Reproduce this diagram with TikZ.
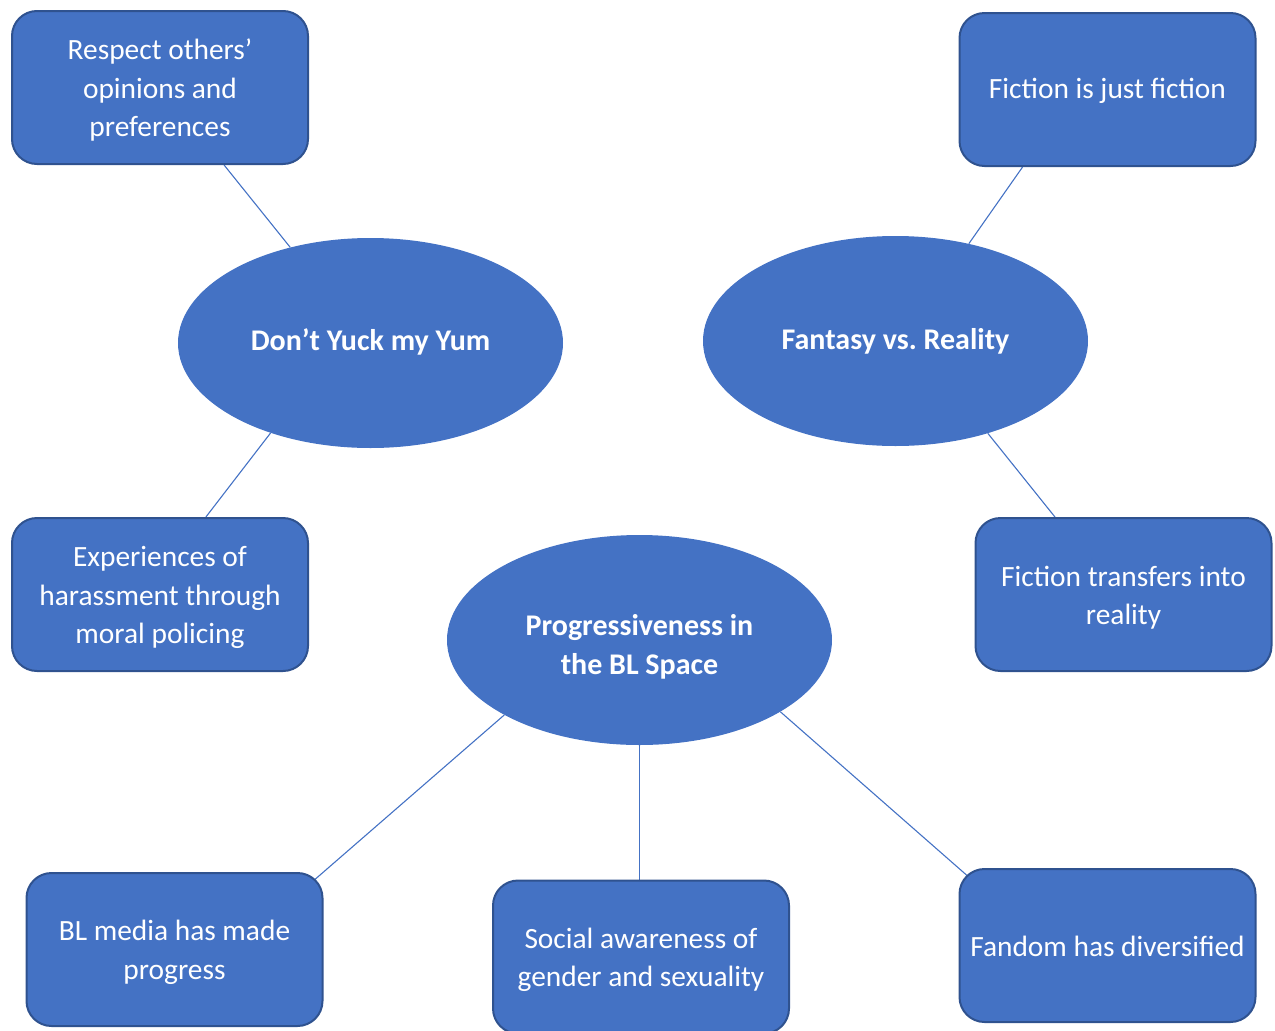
\documentclass[tikz,border=0pt]{standalone}
\usepackage{fontspec}
\setmainfont{Carlito}
\usetikzlibrary{shapes.geometric,backgrounds,calc}
\definecolor{fillblue}{HTML}{4472C4}
\definecolor{edgeblue}{HTML}{2F528F}
\frenchspacing
\newcommand{\shiftedtext}[3]{\raisebox{#1}[\height][\depth]{\parbox{#2}{\centering #3}}}
\tikzset{
  boxnode/.style={rectangle, rounded corners=25pt, fill=fillblue, draw=edgeblue, line width=2pt,
    minimum width=296pt, minimum height=153pt, inner sep=0pt, text=white,
    font=\fontsize{29.4}{38.5}\selectfont},
  ellnode/.style={ellipse, fill=fillblue, draw=none, minimum width=385pt, minimum height=210pt,
    inner sep=0pt, text=white, font=\fontsize{30}{39}\selectfont\bfseries},
  conn/.style={draw=fillblue, line width=1.1pt}
}
\begin{document}
\begin{tikzpicture}[x=1pt,y=-1pt]
\useasboundingbox (0,0) rectangle (1275,1031);
\clip (0,0) rectangle (1275,1031);
\node[boxnode] (b1) at (160,87.5) {\shiftedtext{-3pt}{290pt}{Respect others’\\opinions and\\preferences}};
\node[boxnode] (b2) at (1107.5,89.5) {\shiftedtext{-1pt}{290pt}{Fiction is just fiction}};
\node[boxnode] (b3) at (160,594.5) {\shiftedtext{-3pt}{290pt}{Experiences of\\harassment through\\moral policing}};
\node[boxnode] (b4) at (1123.5,594.5) {\shiftedtext{-3pt}{290pt}{Fiction transfers into\\reality}};
\node[boxnode] (b5) at (174.5,949.5) {\shiftedtext{-3pt}{290pt}{BL media has made\\progress}};
\node[boxnode] (b6) at (641,957) {\shiftedtext{-3pt}{290pt}{Social awareness of\\gender and sexuality}};
\node[boxnode] (b7) at (1107.5,945.5) {\shiftedtext{-1pt}{290pt}{Fandom has diversified}};
\node[ellnode] (e1) at (370.5,343) {\shiftedtext{1pt}{240pt}{Don’t Yuck my Yum}};
\node[ellnode] (e2) at (895.5,341) {\shiftedtext{0pt}{240pt}{Fantasy vs.\ Reality}};
\node[ellnode] (e3) at (639.5,640) {\shiftedtext{-7pt}{240pt}{Progressiveness in\\the BL Space}};
\begin{pgfonlayer}{background}
\draw[conn] ($(b1.south west)!0.715!(b1.south east)$) -- (e1.130.5);
\draw[conn] ($(b3.north west)!0.654!(b3.north east)$) -- (e1.222);
\draw[conn] ($(b2.south west)!0.215!(b2.south east)$) -- (e2.53);
\draw[conn] (e2.-45.8) -- ($(b4.north west)!0.27!(b4.north east)$);
\draw[conn] (e3.209.8) -- ($(e3.209.8)!1.1!(b5.north east)$);
\draw[conn] (e3.south) -- (e3.south |- b6.north);
\draw[conn] (e3.-27.6) -- ($(e3.-27.6)!1.1!(b7.north west)$);
\end{pgfonlayer}
\end{tikzpicture}
\end{document}
